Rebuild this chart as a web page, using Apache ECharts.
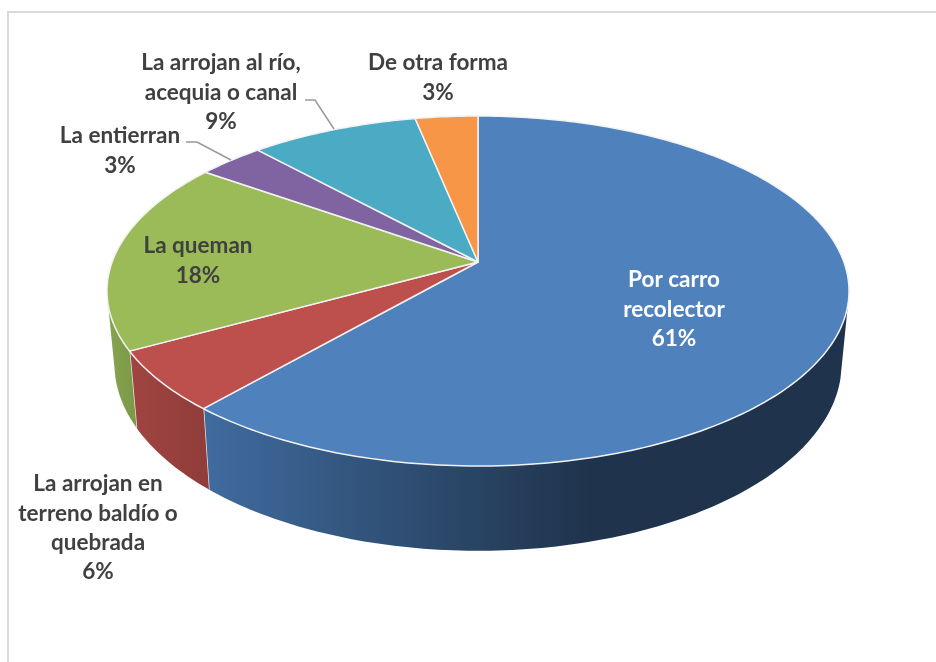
<!DOCTYPE html>
<html>
<head>
<meta charset="utf-8">
<style>html,body{margin:0;padding:0;background:#fff}#c{width:936px;height:662px;filter:blur(0.45px)}</style>
<script src="https://cdn.jsdelivr.net/npm/echarts@6/dist/echarts.min.js"></script>
</head>
<body>
<div id="c"></div>
<script>
// ---- data ----
const categories = ['Por carro\nrecolector', 'La arrojan en\nterreno baldío o\nquebrada', 'La queman', 'La entierran', 'La arrojan al río,\nacequia o canal', 'De otra forma'];
// unrounded shares estimated from the slice edges; labels print them rounded
const values = [61.4, 5.6, 17.8, 3.4, 8.6, 3.2];

// ---- style ----
const topColors = ['#4f81bd', '#bd504d', '#9bbb59', '#8064a2', '#4babc5', '#f79646'];
const wallStops = [
  [[0, '#406b9f'], [0.5, '#2f4f74'], [1, '#1f334c']],
  [[0, '#a04441'], [1, '#8f3c3a']],
  [[0, '#88a550'], [1, '#7b9847']],
  null, null, null
];
const wallSpans = [[206, 590], [130, 212], [106, 136], null, null, null];
const labelColors = ['#ffffff', '#404040', '#404040', '#404040', '#404040', '#404040'];
const labelAnchors = [[674, 280], [98, 484], [198, 246], [120, 136], [221, 63], [438, 63]];
const leaders = [null, null, null, [[186, 142], [197, 142], [231, 160]], [[305, 100], [315, 100], [334, 129]], null];

// ---- 3D pie geometry: a circle seen in perspective ----
const CX = 478, CY = 262, A = 365.9, B = 170.2, K = 0.1657;
const LINE_H = 29.3, WALL_FROM = 104, WALL_TO = 256;
const total = values.reduce((a, b) => a + b, 0);
const startDeg = i => values.slice(0, i).reduce((a, b) => a + b, 0) / total * 360;

function topPt(deg) {
  const t = deg * Math.PI / 180, u = Math.sin(t), v = -Math.cos(t), w = 1 - K * v;
  return [CX + A * u / w, CY + B * v / w];
}
function botPt(deg) {
  const p = topPt(deg);
  return [CX + 0.98 * (p[0] - CX), CY + 1.07 * (p[1] - CY) + 70.5];
}
function arc(fn, a, b) {
  const pts = [], n = Math.max(2, Math.ceil(Math.abs(b - a)));
  for (let i = 0; i <= n; i++) pts.push(fn(a + (b - a) * i / n));
  return pts;
}

const wallItem = (params, api) => {
  const i = params.dataIndex;
  const a = Math.max(startDeg(i), WALL_FROM);
  const b = Math.min(startDeg(i) + api.value(0) / total * 360, WALL_TO);
  if (!wallStops[i] || b <= a) return { type: 'group', children: [] };
  const span = wallSpans[i];
  const fill = new echarts.graphic.LinearGradient(span[0], 0, span[1], 0,
    wallStops[i].map(s => ({ offset: s[0], color: s[1] })), true);
  const pts = arc(topPt, a, b).concat(arc(botPt, b, a));
  const children = [{ type: 'polygon', shape: { points: pts }, style: { fill: fill, stroke: null } }];
  if (b < WALL_TO) children.push({ type: 'line',
    shape: { x1: topPt(b)[0], y1: topPt(b)[1], x2: botPt(b)[0], y2: botPt(b)[1] },
    style: { stroke: '#e6e6e6', lineWidth: 1.5 } });
  return { type: 'group', children: children };
};

const topItem = (params, api) => {
  const i = params.dataIndex;
  const a = startDeg(i), b = a + api.value(0) / total * 360;
  return { type: 'polygon',
    shape: { points: [[CX, CY]].concat(arc(topPt, a, b)) },
    style: { fill: topColors[i], stroke: '#f2f2f2', lineWidth: 1.5, lineJoin: 'round' } };
};

const labelItem = (params, api) => {
  const i = params.dataIndex;
  const lines = categories[i].split('\n').concat([Math.round(api.value(0)) + '%']);
  const children = lines.map((t, k) => ({ type: 'text',
    style: { text: t, x: labelAnchors[i][0], y: labelAnchors[i][1] + k * LINE_H,
      align: 'center', verticalAlign: 'middle', fill: labelColors[i],
      font: 'bold 22.5px Lato, "Open Sans", sans-serif' } }));
  if (leaders[i]) children.push({ type: 'polyline', shape: { points: leaders[i] },
    style: { fill: null, stroke: '#999999', lineWidth: 1.5 } });
  return { type: 'group', children: children };
};

const chart = echarts.init(document.getElementById('c'), null, { renderer: 'canvas' });
const seriesData = values.map((v, i) => ({ name: categories[i], value: v }));
chart.setOption({
  animation: false,
  backgroundColor: '#ffffff',
  graphic: [{ type: 'rect', z: 0, shape: { x: 8, y: 12, width: 1200, height: 1200 },
    style: { fill: null, stroke: '#d9d9d9', lineWidth: 2 } }],
  series: [
    { type: 'custom', coordinateSystem: 'none', z: 2, data: seriesData, renderItem: wallItem },
    { type: 'custom', coordinateSystem: 'none', z: 3, data: seriesData, renderItem: topItem },
    { type: 'custom', coordinateSystem: 'none', z: 4, data: seriesData, renderItem: labelItem }
  ]
});
</script>
</body>
</html>
